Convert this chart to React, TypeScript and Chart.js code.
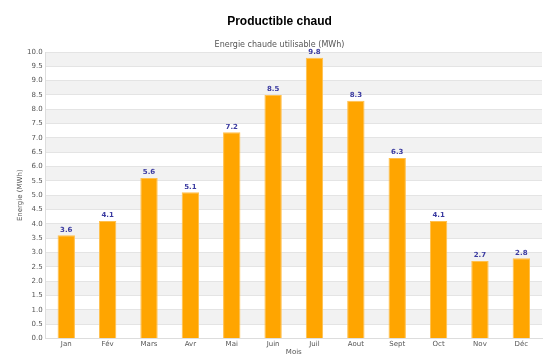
import React, { useEffect, useRef } from "react";
import { Chart, registerables } from "chart.js";

Chart.register(...registerables);

const months = ["Jan", "Fév", "Mars", "Avr", "Mai", "Juin", "Juil", "Aout", "Sept", "Oct", "Nov", "Déc"];
const energy = [3.6, 4.1, 5.6, 5.1, 7.2, 8.5, 9.8, 8.3, 6.3, 4.1, 2.7, 2.8];
const yTicksMax = 10;
const yStep = 0.5;

const bandsPlugin = {
  id: "bands",
  beforeDraw(chart: any) {
    const { ctx, chartArea, scales } = chart;
    const y = scales.y;
    ctx.save();
    let i = 0;
    for (let v = yTicksMax; v > 0; v -= yStep) {
      if (i % 2 === 0) {
        const top = y.getPixelForValue(v);
        const bot = y.getPixelForValue(v - yStep);
        ctx.fillStyle = "#f2f2f2";
        ctx.fillRect(chartArea.left, top, chartArea.right - chartArea.left, bot - top);
      }
      i++;
    }
    ctx.restore();
  },
};

const labelsPlugin = {
  id: "valueLabels",
  afterDatasetsDraw(chart: any) {
    const { ctx } = chart;
    const meta = chart.getDatasetMeta(0);
    ctx.save();
    ctx.fillStyle = "#3a3aa0";
    ctx.font = "bold 7px 'DejaVu Sans'";
    ctx.textAlign = "center";
    ctx.textBaseline = "bottom";
    meta.data.forEach((bar: any, i: number) => {
      ctx.fillText(energy[i].toFixed(1), bar.x, bar.y - 2);
    });
    ctx.restore();
  },
};

export default function App() {
  const ref = useRef<HTMLCanvasElement>(null);
  useEffect(() => {
    document.body.style.margin = "0";
    const small = { family: "'DejaVu Sans'", size: 7, lineHeight: 1 };
    const chart = new Chart(ref.current!, {
      type: "bar",
      data: {
        labels: months,
        datasets: [
          {
            data: energy,
            backgroundColor: "#FFA500",
            borderColor: "#FFC04D",
            borderWidth: 1,
            barPercentage: 0.42,
            categoryPercentage: 1,
          },
        ],
      },
      options: {
        animation: false,
        responsive: false,
        layout: { padding: { left: 17, right: 12, top: 6, bottom: 0 } },
        plugins: {
          legend: { display: false },
          tooltip: { enabled: false },
          title: {
            display: true,
            text: "Productible chaud",
            color: "#000",
            font: { family: "'Liberation Sans'", size: 12, weight: "bold" },
            padding: { top: 8, bottom: 12 },
          },
          subtitle: {
            display: true,
            text: "Energie chaude utilisable (MWh)",
            color: "#555",
            font: { family: "'DejaVu Sans'", size: 8 },
            padding: { top: 0, bottom: 2 },
          },
        },
        scales: {
          x: {
            grid: { display: false, drawTicks: false },
            border: { color: "#dddddd" },
            ticks: { color: "#555", font: small, padding: 2, maxRotation: 0 },
            title: {
              display: true,
              text: "Mois",
              color: "#555",
              font: { family: "'DejaVu Sans'", size: 7, lineHeight: 0.8 },
              padding: { top: 0, bottom: 0 },
            },
          },
          y: {
            min: 0,
            max: yTicksMax,
            grid: { color: "#e4e4e4", drawTicks: false },
            border: { color: "#dddddd" },
            ticks: {
              stepSize: yStep,
              color: "#555",
              font: { family: "'DejaVu Sans'", size: 7 },
              padding: 3,
              callback: (v: any) => Number(v).toFixed(1),
            },
            title: { display: true, text: "Energie (MWh)", color: "#555", font: small, padding: { top: 0, bottom: 0 } },
          },
        },
      },
      plugins: [bandsPlugin, labelsPlugin],
    });
    return () => chart.destroy();
  }, []);
  return <canvas ref={ref} width={554} height={355} />;
}
